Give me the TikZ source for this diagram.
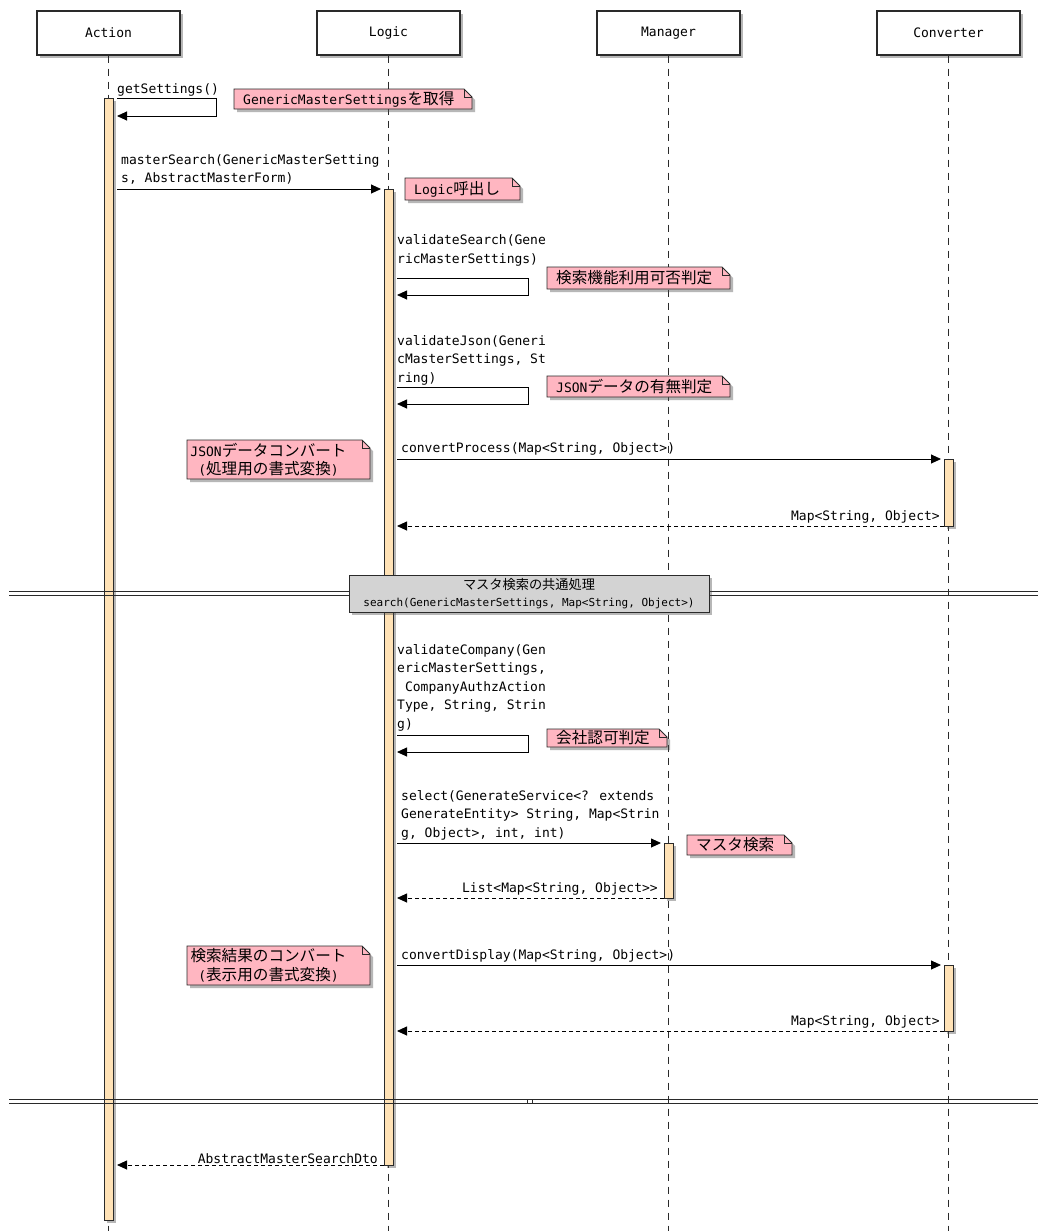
\documentclass[tikz,border=0pt]{standalone}
\usepackage{fontspec}
\setmainfont{DejaVu Sans Mono}
\newfontfamily\cjk{Noto Sans CJK JP}[Scale=1.2]
\usetikzlibrary{arrows.meta,shadows}
\definecolor{actc}{HTML}{FFE2B6}
\definecolor{notec}{HTML}{FFB6C1}
\definecolor{grpc}{HTML}{D3D3D3}
\definecolor{linec}{HTML}{2A2A2A}
\newcommand\msgfont{\fontsize{13}{18.5}\selectfont}
\newcommand\grpfont{\fontsize{11}{16.5}\selectfont}
\newcommand\mynote[6]{%
  \filldraw[notebox] (#2,#3) -- (#4-8,#3) -- (#4,#3+8) -- (#4,#5) -- (#2,#5) -- cycle;
  \draw[noteline] (#4-8,#3) -- (#4-8,#3+8) -- (#4,#3+8);
  \node[notetext] (#1) at (#2+9,{(#3+#5)/2}) {#6};
}
\newcommand\mynotetwo[6]{%
  \filldraw[notebox] (#2,#3) -- (#4-8,#3) -- (#4,#3+8) -- (#4,#5) -- (#2,#5) -- cycle;
  \draw[noteline] (#4-8,#3) -- (#4-8,#3+8) -- (#4,#3+8);
  \node[notetext, anchor=center, align=center] (#1) at ({(#2+#4)/2-10},{(#3+#5)/2}) {#6};
}
\begin{document}
\begin{tikzpicture}[x=1pt,y=-1pt,
  shad/.style={drop shadow={shadow xshift=3pt,shadow yshift=-3pt,opacity=0.4,fill=black!70}},
  part/.style={draw=linec, line width=1.1pt, fill=white, minimum width=143pt, minimum height=44pt, inner sep=0pt, font=\msgfont, shad},
  lifeline/.style={draw=linec, line width=0.8pt, dash pattern=on 7pt off 6pt},
  act/.style={draw=linec, line width=0.9pt, fill=actc, minimum width=9pt, inner sep=0pt, anchor=north, shad},
  msg/.style={draw=black, line width=0.9pt, -{Triangle[length=10pt,width=9pt]}},
  ret/.style={msg, dash pattern=on 4pt off 3pt},
  lbl/.style={font=\msgfont, inner sep=0pt, align=left},
  notebox/.style={draw=linec, line width=0.9pt, fill=notec, shad},
  noteline/.style={draw=linec, line width=0.9pt},
  notetext/.style={font=\msgfont, inner sep=0pt, anchor=west},
  sepline/.style={draw=linec, line width=0.9pt},
  grp/.style={draw=linec, line width=1pt, fill=grpc, minimum width=360pt, minimum height=37pt, inner sep=0pt, align=center, font=\grpfont, shad}
]
\useasboundingbox (0,0) rectangle (1038,1231);
\fill[white] (0,0) rectangle (1038,1231);

% participants
\node[part] (pA) at (108.5,33) {Action};
\node[part] (pL) at (388.5,33) {Logic};
\node[part] (pM) at (668.5,33) {Manager};
\node[part] (pC) at (948.5,33) {Converter};

% lifelines
\coordinate (eA) at (108.5,1231);
\coordinate (eL) at (388.5,1231);
\coordinate (eM) at (668.5,1231);
\coordinate (eC) at (948.5,1231);
\draw[lifeline] (pA) -- (eA);
\draw[lifeline] (pL) -- (eL);
\draw[lifeline] (pM) -- (eM);
\draw[lifeline] (pC) -- (eC);

% activations
\node[act, minimum height=1122pt] (aA) at (108.5,98) {};
\node[act, minimum height=976pt] (aL) at (388.5,189) {};
\node[act, minimum height=67pt] (aC1) at (948.5,459) {};
\node[act, minimum height=55pt] (aM) at (668.5,843) {};
\node[act, minimum height=66pt] (aC2) at (948.5,965) {};

% message coordinates
\coordinate (s1a) at (117,98);  \coordinate (s1b) at (216,98);
\coordinate (s1c) at (216,116); \coordinate (s1d) at (117,116);
\coordinate (m2a) at (117,189); \coordinate (m2b) at (381,189);
\coordinate (s3a) at (397,278); \coordinate (s3b) at (528,278);
\coordinate (s3c) at (528,295); \coordinate (s3d) at (397,295);
\coordinate (s4a) at (397,387); \coordinate (s4b) at (528,387);
\coordinate (s4c) at (528,404); \coordinate (s4d) at (397,404);
\coordinate (m5a) at (397,459); \coordinate (m5b) at (941,459);
\coordinate (m6a) at (944,526); \coordinate (m6b) at (397,526);
\coordinate (s7a) at (397,735); \coordinate (s7b) at (528,735);
\coordinate (s7c) at (528,752); \coordinate (s7d) at (397,752);
\coordinate (m8a) at (397,843); \coordinate (m8b) at (661,843);
\coordinate (m9a) at (664,898); \coordinate (m9b) at (397,898);
\coordinate (m10a) at (397,965); \coordinate (m10b) at (941,965);
\coordinate (m11a) at (944,1031); \coordinate (m11b) at (397,1031);
\coordinate (m12a) at (384,1165); \coordinate (m12b) at (117,1165);

% messages
\draw[msg] (s1a) -- (s1b) -- (s1c) -- (s1d);
\node[lbl, anchor=south west] (t1) at (117,96) {getSettings()};

\draw[msg] (m2a) -- (m2b);
\node[lbl, anchor=south west] (t2) at (121,185) {masterSearch(GenericMasterSetting\\s, AbstractMasterForm)};

\draw[msg] (s3a) -- (s3b) -- (s3c) -- (s3d);
\node[lbl, anchor=south west] (t3) at (397,266) {validateSearch(Gene\\ricMasterSettings)};

\draw[msg] (s4a) -- (s4b) -- (s4c) -- (s4d);
\node[lbl, anchor=south west] (t4) at (397,385) {validateJson(Generi\\cMasterSettings, St\\ring)};

\draw[msg] (m5a) -- (m5b);
\node[lbl, anchor=south west] (t5) at (401,455) {convertProcess(Map<String, Object>)};

\draw[ret] (m6a) -- (m6b);
\node[lbl, anchor=south east] (t6) at (940,523) {Map<String, Object>};

\draw[msg] (s7a) -- (s7b) -- (s7c) -- (s7d);
\node[lbl, anchor=south west] (t7) at (397,731) {validateCompany(Gen\\ericMasterSettings,\\\ CompanyAuthzAction\\Type, String, Strin\\g)};

\draw[msg] (m8a) -- (m8b);
\node[lbl, anchor=south west] (t8) at (401,840) {select(GenerateService<? extends\\GenerateEntity> String, Map<Strin\\g, Object>, int, int)};

\draw[ret] (m9a) -- (m9b);
\node[lbl, anchor=south east] (t9) at (658,895) {List<Map<String, Object>{}>};

\draw[msg] (m10a) -- (m10b);
\node[lbl, anchor=south west] (t10) at (401,962) {convertDisplay(Map<String, Object>)};

\draw[ret] (m11a) -- (m11b);
\node[lbl, anchor=south east] (t11) at (940,1028) {Map<String, Object>};

\draw[ret] (m12a) -- (m12b);
\node[lbl, anchor=south east] (t12) at (378,1164) {AbstractMasterSearchDto};

% separators
\draw[sepline] (9,591) -- (1038,591);
\draw[sepline] (9,595.5) -- (1038,595.5);
\node[grp] (g1) at (529,593.5) {{\cjk マスタ検索の共通処理}\\search(GenericMasterSettings, Map<String, Object>)};

\draw[sepline] (9,1099) -- (1038,1099);
\draw[sepline] (9,1103.5) -- (1038,1103.5);
\draw[sepline, line width=0.7pt, fill=white] (527,1099) rectangle (532,1103.5);

% notes
\mynote{n1}{234}{89}{472}{109}{GenericMasterSettings{\cjk を取得}}
\mynote{n2}{405}{178}{520}{200}{Logic{\cjk 呼出し}}
\mynote{n3}{547}{267}{730}{289}{{\cjk 検索機能利用可否判定}}
\mynote{n4}{547}{376}{730}{397}{JSON{\cjk データの有無判定}}
\mynotetwo{n5}{187}{440}{370}{479}{JSON{\cjk データコンバート}\\({\cjk 処理用の書式変換})}
\mynote{n6}{547}{729}{667}{747}{{\cjk 会社認可判定}}
\mynote{n7}{687}{835}{792}{855}{{\cjk マスタ検索}}
\mynotetwo{n8}{187}{946}{370}{985}{{\cjk 検索結果のコンバート}\\({\cjk 表示用の書式変換})}
\end{tikzpicture}
\end{document}
